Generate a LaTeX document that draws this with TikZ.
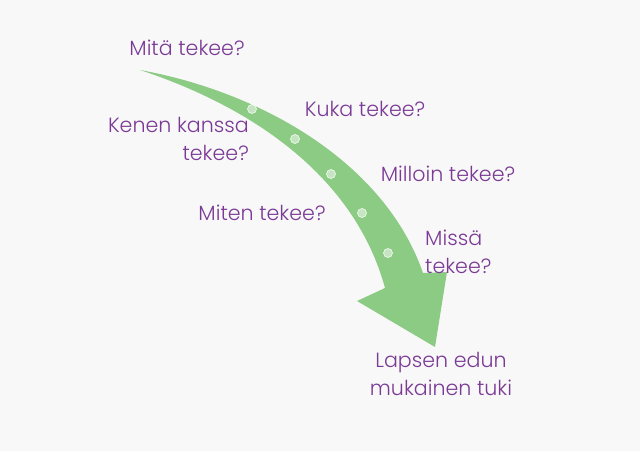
\documentclass[tikz,border=0pt]{standalone}
\usepackage{fontspec}
\setmainfont{Poppins Light}
\definecolor{bg}{HTML}{F8F8F8}
\definecolor{arrowgreen}{HTML}{8CCB84}
\definecolor{txtpurple}{HTML}{7B3A96}
\begin{document}
\begin{tikzpicture}[x=1pt,y=-1pt,
  lbl/.style={text=txtpurple,font=\fontsize{20.6}{27.5}\selectfont,inner sep=0pt},
  dot/.style={circle,minimum size=9pt,inner sep=0pt,fill=white,fill opacity=0.5,draw=white,draw opacity=0.8,line width=0.7pt}]
\fill[bg] (0,0) rectangle (640,451);
\useasboundingbox (0,0) rectangle (640,451);
% arrow
\fill[arrowgreen] (140,70) .. controls (262,92) and (385,163) .. (423,273)
  -- (447,272) -- (435,347) -- (357,301) -- (385,288)
  .. controls (355,178) and (255,108) .. (140,70) -- cycle;
% dots
\node[dot] (d1) at (252,109) {};
\node[dot] (d2) at (295,139) {};
\node[dot] (d3) at (331,174) {};
\node[dot] (d4) at (362,213) {};
\node[dot] (d5) at (388,253) {};
% labels
\node[lbl] (mita) at (187,48) {Mitä tekee?};
\node[lbl] (kuka) at (365,109) {Kuka tekee?};
\node[lbl,align=right,anchor=east] (kenen) at (249,139) {Kenen kanssa\\tekee?};
\node[lbl] (milloin) at (448,174) {Milloin tekee?};
\node[lbl] (miten) at (262,213) {Miten tekee?};
\node[lbl,align=left,anchor=west] (missa) at (425,252) {Missä\\tekee?};
\node[lbl,align=center] (lapsen) at (441,374) {Lapsen edun\\mukainen tuki};
\end{tikzpicture}
\end{document}
